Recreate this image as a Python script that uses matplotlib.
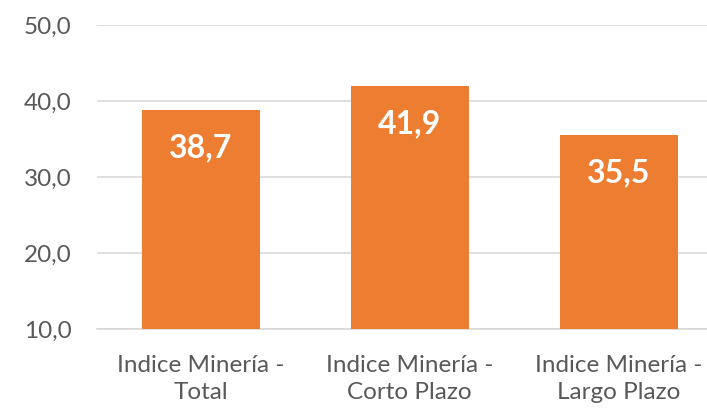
import numpy as np
import matplotlib.pyplot as plt

# datos del grafico
categorias = ["Indice Minería -\nTotal", "Indice Minería -\nCorto Plazo", "Indice Minería -\nLargo Plazo"]
valores = [38.7, 41.9, 35.5]
ticks_y = [10, 20, 30, 40, 50]

plt.rcParams['font.family'] = ['Lato', 'DejaVu Sans']

fig = plt.figure(figsize=(7.07, 4.14), dpi=100)
ax = fig.add_axes([0.1366, 0.2041, 0.886, 0.7343])

x = np.arange(len(categorias))
bars = ax.bar(x, valores, width=0.565, color='#ED7D31', zorder=3)

# etiquetas de valor dentro de las barras
for xi, v in zip(x, valores):
    ax.annotate(f"{v:.1f}".replace('.', ','), (xi, v), xytext=(0, -26.5),
                textcoords='offset points', ha='center', va='center',
                color='white', fontsize=23, fontweight='bold', zorder=4)

ax.set_xlim(-0.5, 2.5)
ax.set_ylim(10, 50)
ax.set_yticks(ticks_y)
ax.set_yticklabels([f"{t:.1f}".replace('.', ',') for t in ticks_y])
ax.set_xticks(x)
ax.set_xticklabels(categorias, linespacing=1.4)

ax.grid(axis='y', color='#d9d9d9', linewidth=1.2, zorder=0)
for s in ['top', 'right', 'left']:
    ax.spines[s].set_visible(False)
ax.spines['bottom'].set_color('#d9d9d9')
ax.spines['bottom'].set_linewidth(1.2)

ax.tick_params(axis='both', length=0, colors='#595959', labelsize=17.5)
ax.tick_params(axis='y', pad=18)
ax.tick_params(axis='x', pad=18)

fig.savefig('out.png', dpi=100)
